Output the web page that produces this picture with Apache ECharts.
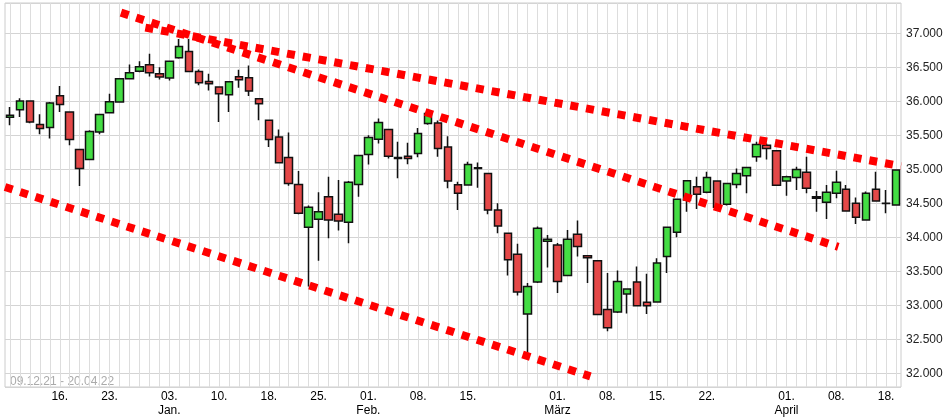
<!DOCTYPE html>
<html>
<head>
<meta charset="utf-8">
<script src="https://cdn.jsdelivr.net/npm/echarts@6/dist/echarts.min.js"></script>
<style>
html,body{margin:0;padding:0;background:#fff;}
#chart{width:948px;height:420px;}
</style>
</head>
<body>
<div id="chart"></div>
<script>
const dates = ['09.12.','10.12.','13.12.','14.12.','15.12.','16.12.','17.12.','20.12.','21.12.','22.12.','23.12.','27.12.','28.12.','29.12.','30.12.','31.12.',
'03.01.','04.01.','05.01.','06.01.','07.01.','10.01.','11.01.','12.01.','13.01.','14.01.','18.01.','19.01.','20.01.','21.01.','24.01.','25.01.','26.01.','27.01.','28.01.','31.01.',
'01.02.','02.02.','03.02.','04.02.','07.02.','08.02.','09.02.','10.02.','11.02.','14.02.','15.02.','16.02.','17.02.','18.02.','22.02.','23.02.','24.02.','25.02.','28.02.',
'01.03.','02.03.','03.03.','04.03.','07.03.','08.03.','09.03.','10.03.','11.03.','14.03.','15.03.','16.03.','17.03.','18.03.','21.03.','22.03.','23.03.','24.03.','25.03.','28.03.','29.03.','30.03.','31.03.',
'01.04.','04.04.','05.04.','06.04.','07.04.','08.04.','11.04.','12.04.','13.04.','14.04.','18.04.','19.04.'];

const opens = [35770,35881,36007,35661,35617,36086,35846,35295,35148,35553,35837,35993,36336,36447,36541,36409,
36345,36644,36736,36443,36296,36213,36101,36365,36350,36042,35724,35480,35177,34781,34151,34268,34600,34342,34224,34781,
35221,35446,35588,35177,35196,35236,35676,35685,35333,34776,34771,35026,34943,34405,34063,33755,32875,33345,33946,
33891,33441,34048,33730,33657,32939,32905,33169,33345,33046,33051,33720,34078,34552,34747,34664,34830,34488,34781,34908,35187,35358,35275,
34830,34884,34958,34600,34517,34650,34708,34503,34258,34708,34505,34478];
const closes = [35800,36007,35700,35603,35978,35955,35441,35016,35559,35808,35998,36336,36424,36512,36424,36360,
36594,36809,36443,36277,36262,36116,36292,36321,36154,35969,35441,35098,34796,34356,34444,34380,34258,34243,34811,35207,
35471,35691,35196,35163,35163,35530,35823,35309,34830,34650,35075,35016,34405,34170,33672,33198,33280,34136,33975,
33354,33975,33867,33701,32865,32670,33354,33242,32997,32997,33623,34151,34561,34834,34635,34884,34444,34796,34943,35031,35368,35309,34767,
34893,35002,34723,34576,34664,34811,34390,34298,34650,34537,34500,34991];
const lows = [35650,35773,35680,35519,35456,35846,35358,34757,35148,35519,35830,35990,36330,36430,36370,36326,
36311,36630,36440,36238,36164,35700,35846,36204,36081,35724,35333,35090,34761,34340,33280,33657,33990,34101,33916,34600,
35075,35383,35163,34870,35079,35180,35660,35187,34723,34405,34760,34732,34342,34063,33441,33148,32254,33330,33559,
33183,33430,33720,33330,32860,32620,32890,32880,32990,32875,33040,33477,34004,34380,34419,34650,34430,34470,34723,34650,35113,35148,34760,
34615,34698,34650,34380,34273,34576,34380,34200,34250,34530,34356,34470];
const highs = [35920,36047,36010,35812,35995,36227,35850,35300,35578,35812,36116,36340,36545,36594,36702,36506,
36600,36922,36922,36472,36409,36220,36300,36468,36531,36045,35730,35588,35544,34977,34470,34664,34893,34845,34830,35210,
35504,35749,35600,35407,35392,35612,35871,35720,35490,34820,35113,35104,34950,34503,34070,33906,33330,34160,34038,
33920,34111,34248,33735,33660,33477,33515,33250,33573,33466,33696,34160,34570,34840,34893,34967,34840,34800,35016,35040,35407,35383,35280,
34910,35040,35187,34683,34771,34981,34771,34590,34675,34967,34698,34995];

const labelDates = ['16.12.','23.12.','03.01.','10.01.','18.01.','25.01.','01.02.','08.02.','15.02.','01.03.','08.03.','15.03.','22.03.','01.04.','08.04.','18.04.'];
const monthNames = {'03.01.':'Jan.','01.02.':'Feb.','01.03.':'März','01.04.':'April'};

// trend lines: [category position, value]
const trendA = [[13.6, 37088], [89.5, 35050]];
const trendB = [[11.15, 37308], [83.2, 33862]];
const trendC = [[-0.5, 34742], [58.3, 31956]];
const rangeText = '09.12.21 - 20.04.22';

const candles = dates.map((d, i) => [opens[i], closes[i], lows[i], highs[i]]);

const fmt = v => String(Math.round(v)).replace(/\B(?=(\d{3})+(?!\d))/g, '.');

const trendStyle = {color: '#ff0000', width: 8, type: [8, 8], cap: 'butt'};
function trend(data) {
  return {
    type: 'line', xAxisIndex: 1, yAxisIndex: 0, data: data, symbol: 'none',
    lineStyle: trendStyle, z: 5, silent: true, animation: false, clip: true
  };
}

const chart = echarts.init(document.getElementById('chart'));
chart.setOption({
  animation: false,
  backgroundColor: '#fff',
  textStyle: {fontFamily: 'Liberation Sans, Arial, sans-serif'},
  grid: {left: 5, right: 47, top: 3, bottom: 33, show: true, borderColor: '#cccccc', borderWidth: 1},
  xAxis: [{
    type: 'category',
    data: dates,
    boundaryGap: true,
    axisLine: {show: false},
    axisTick: {show: false},
    splitLine: {show: true, alignWithLabel: true, interval: 0, lineStyle: {color: '#dddddd', width: 1}},
    axisLabel: {
      interval: (idx, val) => labelDates.indexOf(val) >= 0,
      formatter: v => monthNames[v] ? v.slice(0, 3) + '\n' + monthNames[v] : v.slice(0, 3),
      color: '#000', fontSize: 12, lineHeight: 14, margin: 3,
      fontFamily: 'Liberation Sans, Arial, sans-serif'
    }
  }, {
    type: 'value', min: -0.5, max: 89.5, show: false
  }],
  yAxis: {
    type: 'value', position: 'right', min: 31800, max: 37450, splitNumber: 10, scale: true,
    axisLine: {show: false}, axisTick: {show: false},
    splitLine: {show: true, lineStyle: {color: '#d4d4d4', width: 1}},
    axisLabel: {
      formatter: fmt, color: '#222', fontSize: 12, margin: 5,
      showMinLabel: false, showMaxLabel: false,
      fontFamily: 'Liberation Sans, Arial, sans-serif'
    }
  },
  series: [{
    type: 'candlestick',
    data: candles,
    barWidth: 8,
    z: 3,
    itemStyle: {
      color: '#44dd44', color0: '#e44848',
      borderColor: '#111', borderColor0: '#111', borderColorDoji: '#111', borderWidth: 1.5
    }
  }, trend(trendA), trend(trendB), trend(trendC)],
  graphic: [{
    type: 'text', left: 10, top: 376, silent: true,
    style: {text: rangeText, fill: '#aaaaaa', fontSize: 12, fontFamily: 'Liberation Sans, Arial, sans-serif'}
  }]
});
</script>
</body>
</html>
